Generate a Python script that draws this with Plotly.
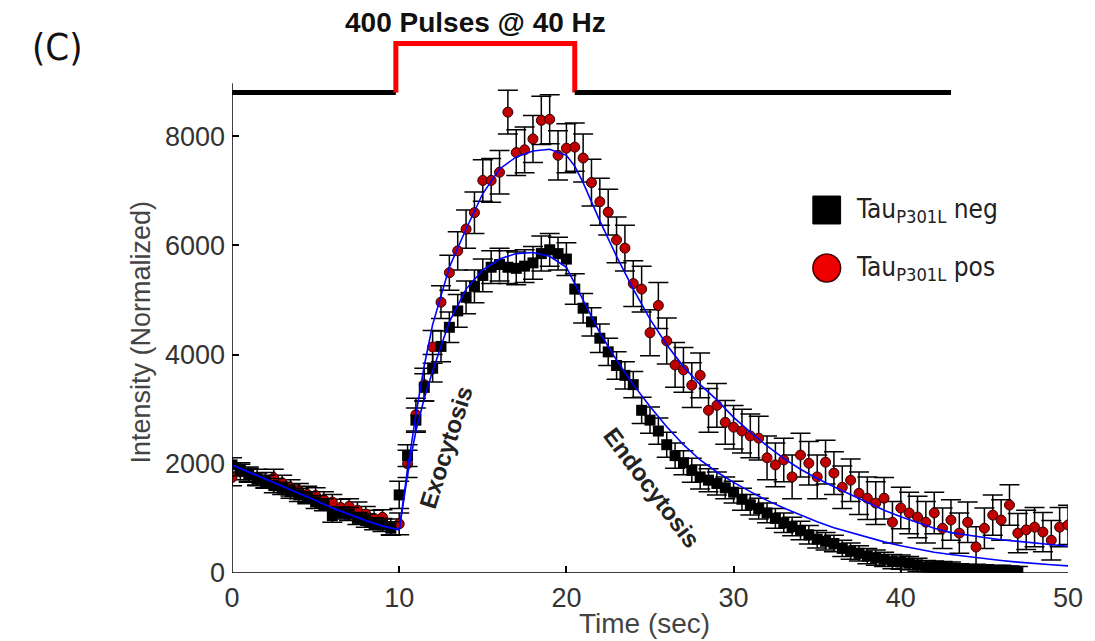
import numpy as np
import plotly.graph_objects as go

# ---------------- data ----------------
t_neg = np.arange(0, 47.01, 0.5)
neg_vals = [1980, 1900, 1800, 1720, 1670, 1600, 1550, 1490, 1430, 1380, 1300, 1250, 1050, 1100, 1080, 1000, 960, 900, 880, 820,
            1430, 2150, 2800, 3400, 3750, 4150, 4500, 4800, 5050, 5250, 5450, 5600, 5650, 5600, 5580, 5620, 5680, 5850, 5920, 5850,
            5750, 5200, 4850, 4600, 4300, 4050, 3800, 3620, 3450, 2980, 2800, 2600, 2350, 2150, 2020, 1880, 1760, 1700, 1640, 1560,
            1480, 1350, 1250, 1180, 1100, 1000, 920, 850, 780, 700, 620, 580, 540, 450, 400, 360, 310, 280, 250, 210,
            200, 180, 150, 110, 110, 100, 90, 70, 55, 60, 50, 40, 50, 40, 30]
neg_err = [130, 120, 120, 110, 120, 130, 110, 120, 120, 110, 120, 110, 120, 110, 120, 110, 120, 110, 120, 120,
           250, 200, 220, 250, 250, 280, 280, 300, 300, 300, 300, 300, 300, 300, 300, 300, 300, 320, 300, 300,
           300, 280, 270, 260, 260, 250, 250, 250, 240, 240, 240, 240, 230, 230, 220, 220, 220, 210, 210, 200,
           200, 200, 190, 190, 180, 180, 180, 170, 170, 170, 160, 160, 150, 150, 150, 140, 140, 140, 130, 130,
           130, 120, 120, 120, 110, 110, 110, 100, 100, 100, 100, 90, 90, 90, 90]

t_pos = np.arange(0, 50.01, 0.5)
pos_vals = [1750, 1850, 1800, 1750, 1700, 1740, 1650, 1560, 1500, 1440, 1420, 1340, 1300, 1200, 1220, 1150, 1080, 1000, 1020, 840,
            900, 2000, 2900, 3450, 4140, 4960, 5500, 5900, 6300, 6600, 7190, 7190, 7340, 8440, 7700, 7750, 7950, 8290, 8310, 7650,
            7780, 7800, 7600, 7150, 6800, 6610, 6100, 5950, 5300, 5200, 4400, 4900, 4250, 3810, 3720, 3440, 3620, 2980, 3070, 2760,
            2670, 2600, 2510, 2470, 2110, 1980, 2070, 1760, 2160, 2010, 1760, 2030, 1830, 1570, 1700, 1460, 1370, 1280, 1370, 930,
            1190, 1100, 1025, 930, 1100, 820, 970, 730, 930, 475, 820, 1060, 970, 1245, 730, 790, 840, 750, 600, 840, 880]
pos_err = [150, 140, 140, 150, 140, 160, 140, 150, 140, 150, 140, 150, 140, 150, 140, 150, 140, 150, 140, 150,
           200, 250, 300, 300, 300, 300, 320, 350, 350, 380, 380, 400, 400, 400, 420, 420, 430, 440, 450, 450,
           450, 440, 440, 430, 430, 420, 420, 420, 420, 420, 420, 420, 420, 410, 410, 410, 410, 400, 400, 400,
           400, 400, 400, 400, 400, 400, 400, 400, 400, 400, 400, 400, 390, 390, 390, 390, 390, 390, 380, 380,
           380, 380, 380, 380, 380, 370, 370, 370, 370, 370, 370, 370, 370, 370, 360, 360, 360, 360, 360, 360, 360]

fit_t = [0, 1, 2, 3, 4, 5, 6, 7, 8, 9, 10, 10.5, 11, 11.5, 12, 13, 14, 15, 16, 17, 18, 19, 20, 20.5, 21, 22, 23, 24, 25,
         26, 27, 28, 29, 30, 31, 32, 33, 34, 35, 36, 37, 38, 39, 40, 41, 42, 43, 44, 45, 46, 47, 48, 49, 50]
fit_neg = [1980, 1850, 1720, 1600, 1470, 1330, 1190, 1070, 960, 860, 790, 1800, 2600, 3200, 3700, 4600, 5200, 5550, 5750,
           5850, 5870, 5800, 5600, 5300, 5000, 4400, 3900, 3450, 3050, 2680, 2350, 2070, 1850, 1660, 1490, 1330, 1190,
           1060, 940, 830, 740, 650, 570, 500, 440, 380, 340, 300, 260, 230, 200, 170, 150, 130]
fit_pos = [1980, 1850, 1720, 1600, 1470, 1330, 1190, 1070, 960, 860, 790, 1900, 2900, 3800, 4550, 5600, 6300, 6950, 7400,
           7620, 7730, 7760, 7650, 7450, 7150, 6450, 5800, 5200, 4650, 4180, 3780, 3450, 3170, 2850, 2580, 2330, 2100,
           1900, 1730, 1580, 1440, 1300, 1150, 1030, 920, 820, 740, 690, 650, 610, 580, 550, 520, 490]

# stimulus trace
stim_pre_t = [0, 9.8]
stim_pulse_t = [9.8, 9.8, 20.5, 20.5]
stim_post_t = [20.5, 43.0]
stim_low = 8800
stim_high = 9700

x_ticks = [0, 10, 20, 30, 40, 50]
y_ticks = [0, 2000, 4000, 6000, 8000]

assert len(t_neg) == len(neg_vals) == len(neg_err)
assert len(t_pos) == len(pos_vals) == len(pos_err)
assert len(fit_t) == len(fit_neg) == len(fit_pos)

FONT = "Liberation Sans, Arial, sans-serif"
NARROW = "DejaVu Sans Condensed, Liberation Sans Narrow, Liberation Sans, sans-serif"
RED = "#c00000"

fig = go.Figure()

fig.add_trace(go.Scatter(
    x=t_pos, y=pos_vals, mode="markers",
    marker=dict(symbol="circle", size=10, color=RED, line=dict(color="#300000", width=1)),
    error_y=dict(type="data", array=pos_err, color="black", thickness=1.5, width=10),
    showlegend=False))
fig.add_trace(go.Scatter(
    x=t_neg, y=neg_vals, mode="markers",
    marker=dict(symbol="square", size=11, color="black"),
    error_y=dict(type="data", array=neg_err, color="black", thickness=1.5, width=10),
    showlegend=False))
fig.add_trace(go.Scatter(x=fit_t, y=fit_neg, mode="lines",
                         line=dict(color="#0000ff", width=1.6), showlegend=False))
fig.add_trace(go.Scatter(x=fit_t, y=fit_pos, mode="lines",
                         line=dict(color="#0000ff", width=1.6), showlegend=False))

# stimulus
fig.add_trace(go.Scatter(x=stim_pre_t, y=[stim_low] * len(stim_pre_t), mode="lines",
                         line=dict(color="black", width=5), showlegend=False))
fig.add_trace(go.Scatter(x=stim_pulse_t, y=[stim_low, stim_high, stim_high, stim_low], mode="lines",
                         line=dict(color="#ff0000", width=5), showlegend=False))
fig.add_trace(go.Scatter(x=stim_post_t, y=[stim_low] * len(stim_post_t), mode="lines",
                         line=dict(color="black", width=5), showlegend=False))

# axis lines
fig.add_shape(type="line", xref="x", yref="y", x0=0, x1=0, y0=0, y1=8970,
              line=dict(color="black", width=1.5))
fig.add_shape(type="line", xref="x", yref="y", x0=0, x1=50, y0=0, y1=0,
              line=dict(color="black", width=1.5))

# legend (manual)
sx, sy1, sy2 = 0.7114, 0.6648, 0.5586
hw, hh = 0.0166, 0.0256
fig.add_shape(type="rect", xref="paper", yref="paper", x0=sx - hw, x1=sx + hw, y0=sy1 - hh, y1=sy1 + hh,
              fillcolor="black", line=dict(color="black", width=1))
fig.add_shape(type="circle", xref="paper", yref="paper", x0=sx - hw, x1=sx + hw, y0=sy2 - hh, y1=sy2 + hh,
              fillcolor="#ee0000", line=dict(color="#400000", width=1.5))
fig.add_annotation(xref="paper", yref="paper", x=0.7435, y=sy1, xanchor="left", yanchor="middle",
                   text="Tau<sub>P301L</sub> neg", showarrow=False,
                   font=dict(family=NARROW, size=26, color="#222"))
fig.add_annotation(xref="paper", yref="paper", x=0.7435, y=sy2, xanchor="left", yanchor="middle",
                   text="Tau<sub>P301L</sub> pos", showarrow=False,
                   font=dict(family=NARROW, size=26, color="#222"))

# texts
fig.add_annotation(xref="paper", yref="paper", x=0.291, y=1.009, xanchor="center", yanchor="middle",
                   text="<b>400 Pulses @ 40 Hz</b>",
                   showarrow=False, font=dict(family=FONT, size=28, color="#111"))
fig.add_annotation(xref="paper", yref="paper", x=-0.209, y=0.963, xanchor="center", yanchor="middle",
                   text="(C)", showarrow=False, font=dict(family=NARROW, size=38, color="#111"))
fig.add_annotation(xref="x", yref="y", x=12.77, y=2306, xanchor="center", yanchor="middle",
                   text="<b>Exocytosis</b>", textangle=-72.5,
                   showarrow=False, font=dict(family=FONT, size=24, color="#222"))
fig.add_annotation(xref="x", yref="y", x=25.12, y=1574, xanchor="center", yanchor="middle",
                   text="<b>Endocytosis</b>", textangle=53,
                   showarrow=False, font=dict(family=FONT, size=24, color="#222"))
fig.add_annotation(xref="paper", yref="paper", x=-0.1093, y=0.4414, xanchor="center", yanchor="middle",
                   text="Intensity (Normalized)",
                   textangle=-90, showarrow=False, font=dict(family=FONT, size=27, color="#444"))
fig.add_annotation(xref="paper", yref="paper", x=0.494, y=-0.0934, xanchor="center", yanchor="middle",
                   text="Time (sec)",
                   showarrow=False, font=dict(family=FONT, size=28, color="#444"))

fig.update_layout(
    width=1095, height=641, autosize=False,
    margin=dict(l=232, r=21, t=27, b=68),
    paper_bgcolor="white", plot_bgcolor="white",
    showlegend=False,
    xaxis=dict(range=[0, 50], tickvals=x_ticks, ticks="inside", ticklen=7, tickwidth=1.5, tickcolor="black",
               showgrid=False, zeroline=False, showline=False, ticklabelstandoff=6,
               tickfont=dict(family=FONT, size=27, color="#333")),
    yaxis=dict(range=[0, 10000], tickvals=y_ticks, ticks="inside", ticklen=7, tickwidth=1.5, tickcolor="black",
               showgrid=False, zeroline=False, showline=False, ticklabelstandoff=6,
               tickfont=dict(family=FONT, size=27, color="#333")),
)

fig.write_html("out.html")
